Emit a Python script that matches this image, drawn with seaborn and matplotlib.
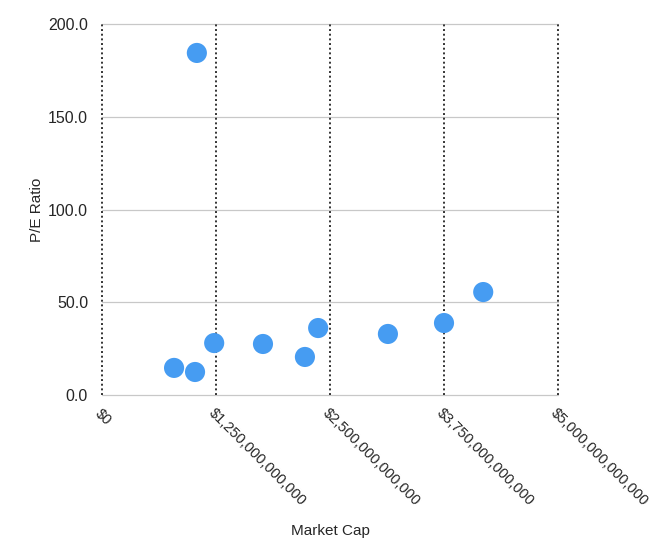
import matplotlib.pyplot as plt
import matplotlib.ticker as mticker
import pandas as pd
import seaborn as sns

market_cap = [0.79e12, 1.02e12, 1.04e12, 1.23e12, 1.765e12, 2.225e12, 2.37e12, 3.135e12, 3.75e12, 4.18e12]
pe_ratio = [14.6, 12.4, 184.4, 28.0, 27.5, 20.5, 36.1, 32.9, 38.8, 55.5]

x_ticks = [0, 1.25e12, 2.5e12, 3.75e12, 5e12]
y_ticks = [0, 50, 100, 150, 200]

df = pd.DataFrame({'Market Cap': market_cap, 'P/E Ratio': pe_ratio})

sns.set_style('white')
plt.rcParams['font.family'] = ['Liberation Sans', 'DejaVu Sans']

fig = plt.figure(figsize=(6.65, 5.47), dpi=100)
ax = fig.add_axes([0.1534, 0.2779, 0.6857, 0.6782])

sns.scatterplot(data=df, x='Market Cap', y='P/E Ratio', s=210, color='#469cf2',
                edgecolor='none', ax=ax, zorder=3)

ax.set_xlim(0, 5e12)
ax.set_ylim(0, 200)
ax.set_xticks(x_ticks)
ax.set_yticks(y_ticks)
ax.xaxis.set_major_formatter(mticker.FuncFormatter(lambda v, p: f'${v:,.0f}'))
ax.yaxis.set_major_formatter(mticker.FuncFormatter(lambda v, p: f'{v:.1f}'))

for y in y_ticks:
    ax.axhline(y, color='#c8c8c8', lw=0.9, zorder=1, clip_on=False)
for x in x_ticks:
    ax.axvline(x, color='#333333', lw=1.4, ls=(0, (1, 1.4)), zorder=2, clip_on=False)

for s in ax.spines.values():
    s.set_visible(False)
ax.tick_params(axis='x', length=0, labelsize=10.5, pad=8)
ax.tick_params(axis='y', length=0, labelsize=11.5, pad=10)
plt.setp(ax.get_xticklabels(), rotation=-45, ha='left', va='top', rotation_mode='anchor')

ax.set_xlabel('Market Cap', fontsize=11, labelpad=11)
ax.set_ylabel('P/E Ratio', fontsize=11, labelpad=3)

fig.savefig('out.png', dpi=100)
